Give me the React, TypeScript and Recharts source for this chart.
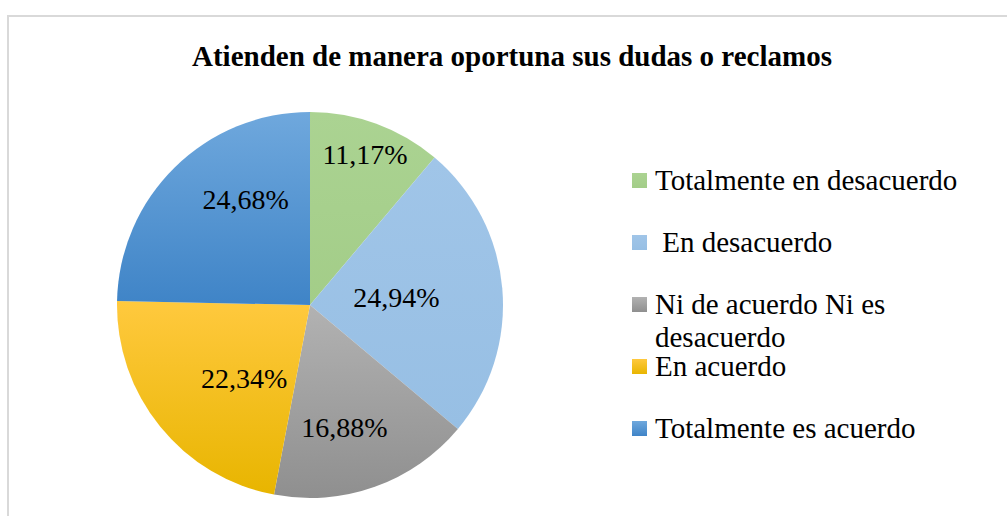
import { PieChart, Pie, Cell, Legend } from "recharts";

const categories = [
  "Totalmente en desacuerdo",
  " En desacuerdo",
  "Ni de acuerdo Ni es desacuerdo",
  "En acuerdo",
  "Totalmente es acuerdo",
];
const percentages = [11.17, 24.94, 16.88, 22.34, 24.68];

// top / bottom colours of each slice gradient
const topColors = ["#abd392", "#a0c5e8", "#b2b2b2", "#ffc93e", "#6fa8dd"];
const bottomColors = ["#a3cd88", "#97bfe4", "#8f8f8f", "#e8b500", "#3f84c7"];

const data = categories.map((name, i) => ({ name, value: percentages[i] }));

const FONT = "Liberation Serif, Times New Roman, serif";
const RADIAN = Math.PI / 180;

// Excel's best-fit label placement, roughly: radius share and angle nudge per slice
const labelRadius = [0.83, 0.45, 0.66, 0.51, 0.64];
const labelNudge = [0, 0, -4, 9, -13];

const renderLabel = (props: any) => {
  const { cx, cy, midAngle, outerRadius, index, value } = props;
  const r = outerRadius * labelRadius[index];
  const a = (midAngle + labelNudge[index]) * RADIAN;
  const x = cx + r * Math.cos(a);
  const y = cy - r * Math.sin(a);
  return (
    <text
      x={x}
      y={y}
      fill="#000"
      style={{ fontFamily: FONT }}
      fontSize={28}
      textAnchor="middle"
      dominantBaseline="central"
    >
      {value.toFixed(2).replace(".", ",") + "%"}
    </text>
  );
};

const renderLegend = () => (
  <div style={{ position: "relative", fontFamily: FONT, fontSize: 29, color: "#000" }}>
    {categories.map((name, i) => (
      <div
        key={name}
        style={{ position: "absolute", left: 0, top: i * 62, display: "flex", alignItems: "flex-start" }}
      >
        <span
          style={{
            display: "inline-block",
            width: 15,
            height: 15,
            marginTop: 9,
            marginRight: 8,
            background: `linear-gradient(${topColors[i]}, ${bottomColors[i]})`,
          }}
        />
        <span style={{ width: 330, lineHeight: "33px", whiteSpace: "pre-wrap" }}>{name}</span>
      </div>
    ))}
  </div>
);

export default function App() {
  return (
    <div style={{ position: "absolute", left: 0, top: 0, width: 1007, height: 516, background: "#fff", overflow: "hidden" }}>
      <style>{`.recharts-pie-sectors { filter: drop-shadow(2px 3px 3px rgba(0,0,0,0.35)); }`}</style>
      <div
        style={{
          position: "absolute",
          left: 7,
          top: 15,
          width: 1020,
          height: 540,
          border: "2px solid #d9d9d9",
        }}
      />
      <div
        style={{
          position: "absolute",
          left: 16,
          top: 39,
          width: 992,
          textAlign: "center",
          fontFamily: FONT,
          fontWeight: "bold",
          fontSize: 29,
          lineHeight: "34px",
        }}
      >
        Atienden de manera oportuna sus dudas o reclamos
      </div>
      <div style={{ position: "absolute", left: 0, top: 0 }}>
        <PieChart width={1007} height={516} margin={{ top: 0, right: 0, bottom: 0, left: 0 }}>
          <defs>
            {topColors.map((c, i) => (
              <linearGradient key={i} id={`slice${i}`} x1="0" y1="0" x2="0" y2="1">
                <stop offset="0%" stopColor={c} />
                <stop offset="100%" stopColor={bottomColors[i]} />
              </linearGradient>
            ))}
          </defs>
          <Pie
            data={data}
            dataKey="value"
            nameKey="name"
            cx={310}
            cy={305}
            outerRadius={193}
            startAngle={90}
            endAngle={-270}
            stroke="none"
            label={renderLabel}
            labelLine={false}
            isAnimationActive={false}
          >
            {data.map((d, i) => (
              <Cell key={d.name} fill={`url(#slice${i})`} />
            ))}
          </Pie>
          <Legend
            content={renderLegend}
            wrapperStyle={{ left: 632, top: 164, width: 370, height: 300 }}
          />
        </PieChart>
      </div>
    </div>
  );
}
